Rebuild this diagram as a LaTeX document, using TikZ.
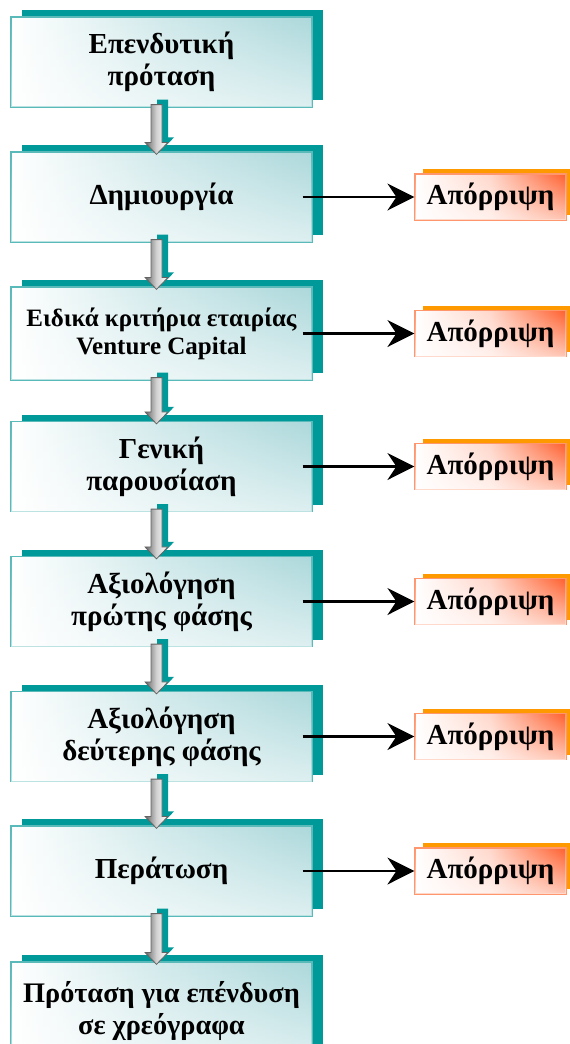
\documentclass[tikz,border=0pt]{standalone}
\usepackage{fontspec}
\setmainfont{Liberation Serif}
\usetikzlibrary{shadows,arrows.meta,calc,fadings}
\definecolor{tealD}{RGB}{0,153,153}
\definecolor{tealL}{RGB}{172,216,219}
\definecolor{tealB}{RGB}{90,185,185}
\definecolor{orS}{RGB}{255,153,0}
\definecolor{orF}{RGB}{255,95,45}
\definecolor{orB}{RGB}{255,150,110}
\definecolor{grA}{RGB}{100,100,100}
\newcommand\flowdown[2]{%
  \path ([xshift=-5pt]#1.south) coordinate (fs)
        ([xshift=-5pt,yshift=-3pt]#2.north) coordinate (ft);
  \draw[flowarrow] ([xshift=-5.5pt,yshift=3pt]fs) -- ([xshift=-5.5pt,yshift=12pt]ft)
     -- ([xshift=-11.5pt,yshift=12pt]ft) -- (ft) -- ([xshift=11.5pt,yshift=12pt]ft)
     -- ([xshift=5.5pt,yshift=12pt]ft) -- ([xshift=5.5pt,yshift=3pt]fs) -- cycle;}
\begin{document}
\begin{tikzpicture}[x=1pt,y=-1pt,
  stage/.style={draw=tealB, line width=1.2pt, minimum width=301pt, minimum height=90pt,
    inner sep=0pt, align=center, font=\bfseries\fontsize{29}{32}\selectfont,
    left color=white, right color=tealL, middle color=tealL!55,
    general shadow={fill=tealD, shadow xshift=11pt, shadow yshift=7pt},
    postaction={fill=white, path fading=north, fill opacity=0.6}},
  reject/.style={draw=orB, line width=1.2pt, minimum width=151pt, minimum height=46pt,
    inner sep=0pt, font=\bfseries\fontsize{29}{32}\selectfont,
    left color=white, right color=orF, middle color=orF!25,
    general shadow={fill=orS, shadow xshift=8pt, shadow yshift=5pt},
    postaction={fill=white, path fading=north, fill opacity=0.65}},
  link/.style={line width=2.2pt, -{Stealth[length=27pt,width=27pt,inset=9pt]}},
  flowarrow/.style={draw=grA, line width=0.8pt, left color=grA, right color=white, middle color=gray!35,
    general shadow={fill=tealD, shadow xshift=6pt, shadow yshift=5pt}}
]
\clip (0,0) rectangle (570,1044);
\node[stage] (s1) at (161.5,62) {Επενδυτική\\πρόταση};
\node[stage] (s2) at (161.5,197) {Δημιουργία};
\node[stage, minimum height=93pt, font=\bfseries\fontsize{25}{28}\selectfont] (s3) at (161.5,333.5) {Ειδικά κριτήρια εταιρίας\\Venture Capital};
\node[stage] (s4) at (161.5,466.5) {Γενική\\παρουσίαση};
\node[stage] (s5) at (161.5,601.5) {Αξιολόγηση\\πρώτης φάσης};
\node[stage] (s6) at (161.5,736.5) {Αξιολόγηση\\δεύτερης φάσης};
\node[stage] (s7) at (161.5,871) {Περάτωση};
\node[stage, minimum height=97pt, font=\bfseries\fontsize{28.3}{32}\selectfont] (s8) at (161.5,1010.5) {Πρόταση για επένδυση\\σε χρεόγραφα};
\foreach \i in {2,...,7}{
  \node[reject] (r\i) at ($(s\i.center)+(329,0)$) {Απόρριψη};
  \draw[link] ([xshift=-10pt]s\i.east) -- (r\i.west);
}
\flowdown{s1}{s2}
\flowdown{s2}{s3}
\flowdown{s3}{s4}
\flowdown{s4}{s5}
\flowdown{s5}{s6}
\flowdown{s6}{s7}
\flowdown{s7}{s8}
\end{tikzpicture}
\end{document}
